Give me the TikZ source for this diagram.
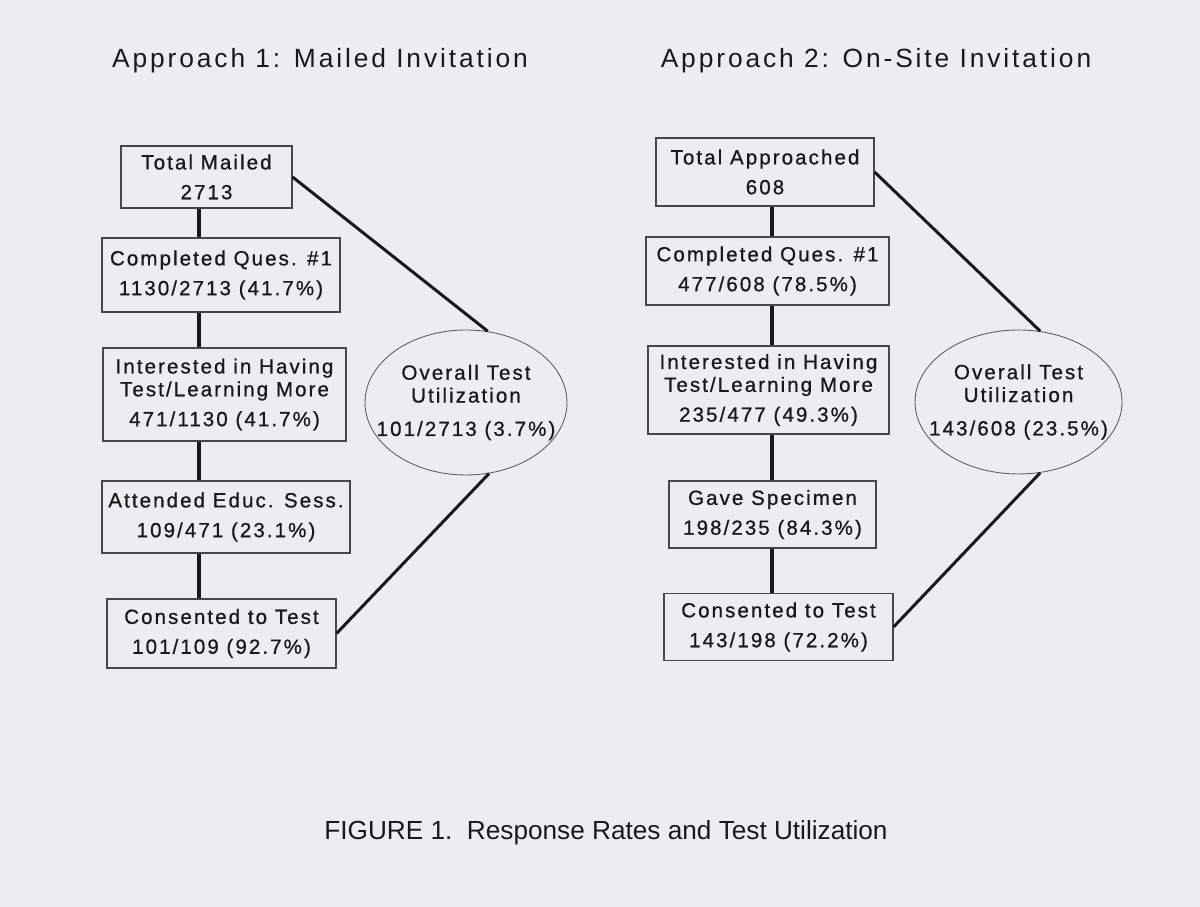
\documentclass[tikz,border=0pt]{standalone}
\usepackage{fontspec}
\setmainfont{Liberation Sans}
\newfontfamily\boxfont[LetterSpace=10,FakeBold=0.8]{Liberation Sans}
\newfontfamily\headfont[LetterSpace=11]{Liberation Sans}
\usetikzlibrary{shapes.geometric}
\definecolor{paper}{RGB}{238,236,242}
\definecolor{ink}{RGB}{25,25,28}

\begin{document}
\begin{tikzpicture}[
        box/.style={draw=ink!80,line width=0.6pt,text=ink,align=center,inner sep=0pt,font=\boxfont\fontsize{11.7}{13}\selectfont},
        oval/.style={ellipse,draw=ink!70,line width=0.5pt,text=ink,align=center,inner xsep=-0.45cm,inner ysep=0pt,font=\boxfont\fontsize{11.7}{13}\selectfont},
        stem/.style={ink,line width=2.3pt},
        link/.style={ink,line width=1.7pt}]
        \fill[paper] (0,0) rectangle (24,18.14);
        \useasboundingbox (0,0) rectangle (24,18.14);

        \coordinate (ls) at (3.98,0);
        \coordinate (rs) at (15.44,0);

        % headings
        \node[font=\headfont\fontsize{15}{17}\selectfont,text=ink,anchor=base] (t1) at (6.4,16.78) {Approach 1: Mailed Invitation};
        \node[font=\headfont\fontsize{15}{17}\selectfont,text=ink,anchor=base] (t2) at (17.52,16.78) {Approach 2: On-Site Invitation};

        % approach 1
        \node[box,minimum width=3.42cm,minimum height=1.24cm] (m1) at (4.13,14.6) {Total Mailed\\[4pt]2713};
        \node[box,minimum width=4.76cm,minimum height=1.48cm] (m2) at (4.42,12.64) {Completed Ques. \#1\\[4pt]1130/2713 (41.7\%)};
        \node[box,minimum width=4.86cm,minimum height=1.86cm] (m3) at (4.49,10.25) {Interested in Having\\Test/Learning More\\[4pt]471/1130 (41.7\%)};
        \node[box,minimum width=4.96cm,minimum height=1.44cm] (m4) at (4.52,7.8) {Attended Educ. Sess.\\[4pt]109/471 (23.1\%)};
        \node[box,minimum width=4.58cm,minimum height=1.38cm] (m5) at (4.43,5.47) {Consented to Test\\[4pt]101/109 (92.7\%)};
        \node[oval,minimum width=4.04cm,minimum height=2.9cm] (u1) at (9.32,10.09) {Overall Test\\Utilization\\[6pt]101/2713 (3.7\%)};

        \draw[stem] (m1.south -| ls) -- (m2.north -| ls);
        \draw[stem] (m2.south -| ls) -- (m3.north -| ls);
        \draw[stem] (m3.south -| ls) -- (m4.north -| ls);
        \draw[stem] (m4.south -| ls) -- (m5.north -| ls);
        \draw[link] (m1.east) -- (u1.73);
        \draw[link] (u1.288) -- (m5.east);

        % approach 2
        \node[box,minimum width=4.36cm,minimum height=1.36cm] (n1) at (15.3,14.7) {Total Approached\\[4pt]608};
        \node[box,minimum width=4.86cm,minimum height=1.36cm] (n2) at (15.35,12.72) {Completed Ques. \#1\\[4pt]477/608 (78.5\%)};
        \node[box,minimum width=4.82cm,minimum height=1.76cm] (n3) at (15.37,10.34) {Interested in Having\\Test/Learning More\\[4pt]235/477 (49.3\%)};
        \node[box,minimum width=4.14cm,minimum height=1.34cm] (n4) at (15.45,7.85) {Gave Specimen\\[4pt]198/235 (84.3\%)};
        \node[box,minimum width=4.58cm,minimum height=1.34cm] (n5) at (15.57,5.6) {Consented to Test\\[4pt]143/198 (72.2\%)};
        \node[oval,minimum width=4.14cm,minimum height=2.88cm] (u2) at (20.37,10.1) {Overall Test\\Utilization\\[6pt]143/608 (23.5\%)};

        \draw[stem] (n1.south -| rs) -- (n2.north -| rs);
        \draw[stem] (n2.south -| rs) -- (n3.north -| rs);
        \draw[stem] (n3.south -| rs) -- (n4.north -| rs);
        \draw[stem] (n4.south -| rs) -- (n5.north -| rs);
        \draw[link] (n1.east) -- (u2.73);
        \draw[link] (u2.287) -- (n5.east);

        \node[font=\fontsize{14.9}{17}\selectfont,text=ink,anchor=base] (cap) at (12.12,1.34) {FIGURE 1.\ \ Response Rates and Test Utilization};
    \end{tikzpicture}
\end{document}
